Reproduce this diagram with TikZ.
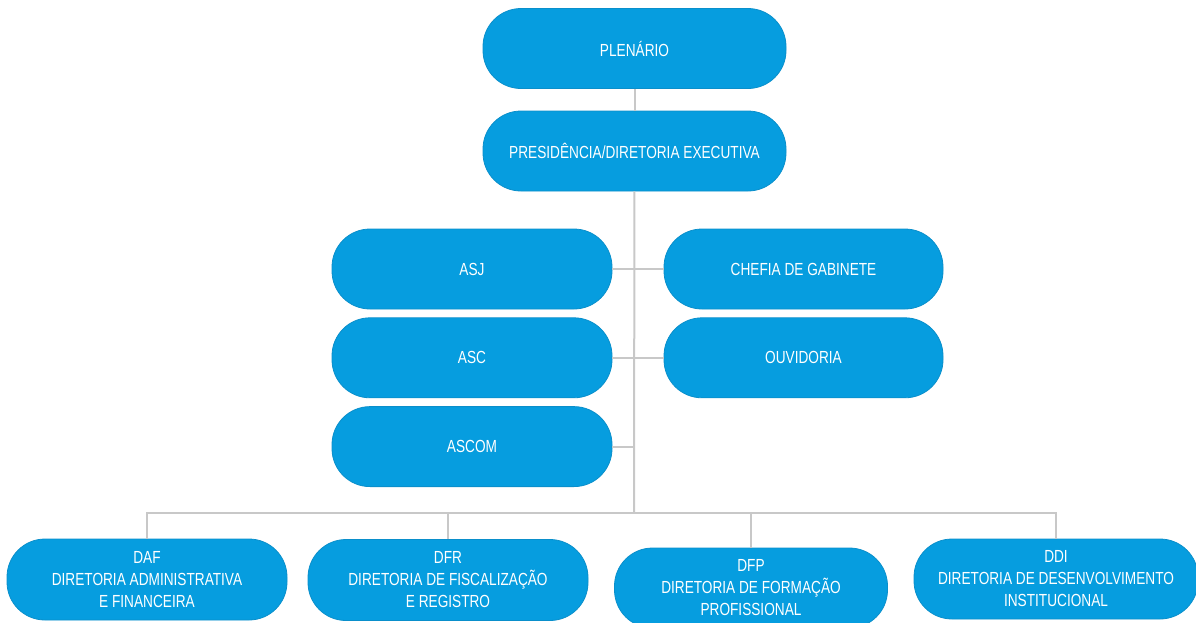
\documentclass[tikz,border=0pt]{standalone}
\usepackage{fontspec}
\setmainfont{Liberation Sans}[FakeStretch=0.78]
\usepackage{tikz}
\usetikzlibrary{positioning, calc}
\usepackage{xcolor}
\definecolor{OrgBlue}{HTML}{069DDF}
\definecolor{OrgEdge}{HTML}{0A8FCB}
\definecolor{OrgLine}{HTML}{C8C8C8}
\tikzset{
    % Box styles - pill shaped
    unit/.style={
        rectangle,
        rounded corners=38pt,
        draw=OrgEdge,
        fill=OrgBlue,
        line width=0.8pt,
        minimum width=280pt,
        minimum height=80pt,
        align=center,
        text=white,
        font=\fontsize{17.5}{22}\selectfont
    },
    topunit/.style={
        unit,
        minimum width=303pt
    },
    % Connector style - straight lines only
    link/.style={
        line width=2pt,
        draw=OrgLine
    }
}

\begin{document}
\begin{tikzpicture}[x=1pt, y=-1pt]
    \useasboundingbox (0,0) rectangle (1196,622);

    \node[topunit] (plen) at (634.5,48.5) {PLENÁRIO};
    \node[topunit] (pres) at (634.5,151) {PRESIDÊNCIA/DIRETORIA EXECUTIVA};

    \node[unit] (asj) at (472,269) {ASJ};
    \node[unit, below=8pt of asj] (asc) {ASC};
    \node[unit, below=8pt of asc] (ascom) {ASCOM};
    \node[unit, minimum width=279pt] (chefia) at (803.5,269) {CHEFIA DE GABINETE};
    \node[unit, minimum width=279pt, below=8pt of chefia] (ouv) {OUVIDORIA};

    \node[unit, minimum height=81pt] (daf) at (147,579.5) {DAF\\DIRETORIA ADMINISTRATIVA\\E FINANCEIRA};
    \node[unit, minimum height=81pt] (dfr) at (448,580) {DFR\\DIRETORIA DE FISCALIZAÇÃO\\E REGISTRO};
    \node[unit, minimum width=273pt] (dfp) at (751,588) {DFP\\DIRETORIA DE FORMAÇÃO\\PROFISSIONAL};
    \node[unit, minimum width=284pt] (ddi) at (1056,579) {DDI\\DIRETORIA DE DESENVOLVIMENTO\\INSTITUCIONAL};

    % connectors
    \coordinate (bus) at (634,513);
    \draw[link] (plen) -- (pres);
    \draw[link] (pres) -- (bus);
    \foreach \n in {asj,asc,ascom}
        \draw[link] (\n.east) -- (\n.east -| bus);
    \foreach \n in {chefia,ouv}
        \draw[link] (\n.west) -- (\n.west -| bus);
    \foreach \n in {daf,dfr,dfp,ddi}
        \draw[link] (bus) -| (\n.north);
\end{tikzpicture}
\end{document}
